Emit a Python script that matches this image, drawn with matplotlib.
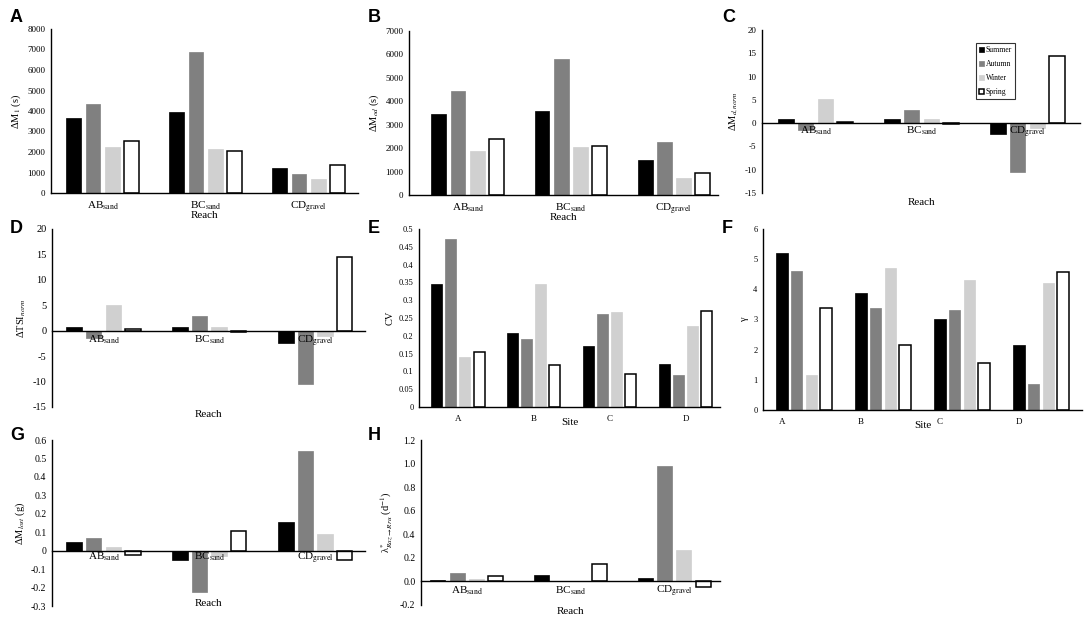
import numpy as np
import matplotlib
matplotlib.use("Agg")
import matplotlib.pyplot as plt
from matplotlib.ticker import FuncFormatter

plt.rcParams['font.family'] = ['Liberation Serif', 'DejaVu Serif']
plt.rcParams['mathtext.fontset'] = 'stix'
plt.rcParams['axes.unicode_minus'] = False

# ---------------- data ----------------
seasons = ['Summer', 'Autumn', 'Winter', 'Spring']
season_colors = ['#000000', '#808080', '#d0d0d0', '#ffffff']
reaches = ['AB$_{\\mathrm{sand}}$', 'BC$_{\\mathrm{sand}}$', 'CD$_{\\mathrm{gravel}}$']
sites = ['A', 'B', 'C', 'D']

# rows = seasons (Summer, Autumn, Winter, Spring), columns = reaches / sites
dM1 = [[3640, 3940, 1220],
       [4330, 6870, 940],
       [2230, 2130, 680],
       [2520, 2030, 1380]]
dMod = [[3450, 3600, 1510],
        [4450, 5800, 2270],
        [1890, 2040, 710],
        [2410, 2090, 920]]
dMdnorm = [[0.9, 0.8, -2.4],
           [-1.4, 2.9, -10.4],
           [5.1, 0.8, -1.1],
           [0.3, -0.2, 14.4]]
dTSI = [[0.8, 0.7, -2.4],
        [-1.5, 2.8, -10.4],
        [5.1, 0.7, -1.0],
        [0.3, -0.3, 14.5]]
cv = [[0.345, 0.209, 0.172, 0.122],
      [0.473, 0.190, 0.262, 0.091],
      [0.141, 0.345, 0.268, 0.227],
      [0.155, 0.117, 0.092, 0.270]]
gamma = [[5.20, 3.89, 3.01, 2.17],
         [4.62, 3.38, 3.32, 0.87],
         [1.15, 4.71, 4.32, 4.21],
         [3.37, 2.14, 1.55, 4.56]]
dMlost = [[0.049, -0.050, 0.153],
          [0.067, -0.222, 0.540],
          [0.022, -0.030, 0.092],
          [-0.023, 0.106, -0.050]]
lam = [[0.008, 0.054, 0.028],
       [0.070, 0.002, 0.977],
       [0.022, 0.001, 0.263],
       [0.045, 0.147, -0.045]]

W, H = 1084, 618
fig = plt.figure(figsize=(W / 100, H / 100), dpi=100)


def rect(l, r, t, b):
    return [l / W, 1 - b / H, (r - l) / W, (b - t) / H]


def panel(pos, data, cats, xlim, ylim, yticks, fmt, ylabel, xlabel,
          zero_axis=False, label_y=-0.1, tick_pad=5, ytick_fs=6.5,
          cat_fs=8, tick_shift=0.0, ylabel_fs=7.5):
    ax = fig.add_axes(pos)
    ax.set_axisbelow(False)
    for s in ['top', 'right']:
        ax.spines[s].set_visible(False)
    if zero_axis:
        ax.spines['bottom'].set_position(('data', 0))
    ax.spines['left'].set_linewidth(1.0)
    ax.spines['bottom'].set_linewidth(1.0)
    ax.spines['bottom'].set_zorder(3)
    x = np.arange(len(cats))
    for i, (vals, col) in enumerate(zip(data, season_colors)):
        off = (i - 1.5) * 0.185
        if col == '#ffffff':
            ax.bar(x + off, vals, width=0.145, color=col, edgecolor='black',
                   linewidth=1.1, label=seasons[i], zorder=2)
        else:
            ax.bar(x + off, vals, width=0.145, color=col, edgecolor=col,
                   linewidth=0.5, label=seasons[i], zorder=2)
    ax.set_xlim(*xlim)
    ax.set_ylim(*ylim)
    ax.set_yticks(yticks)
    ax.yaxis.set_major_formatter(FuncFormatter(fmt))
    ax.set_xticks(x + tick_shift)
    ax.set_xticklabels(cats)
    ax.tick_params(axis='both', length=0)
    ax.tick_params(axis='y', labelsize=ytick_fs, pad=4)
    ax.tick_params(axis='x', pad=tick_pad, labelsize=cat_fs)
    ax.set_ylabel(ylabel, fontsize=ylabel_fs, labelpad=3)
    ax.set_xlabel(xlabel, fontsize=8)
    ax.xaxis.set_label_coords(0.5, label_y)
    ax.set_facecolor('none')
    return ax


f_int = lambda v, p: '%d' % round(v)
f_g = lambda v, p: '%g' % round(v, 3)
f_1 = lambda v, p: '%.1f' % v

axA = panel(rect(51, 358, 29, 193), dM1, reaches, (-0.50, 2.48), (0, 8000),
            np.arange(0, 8001, 1000), f_int, 'ΔM$_1$ (s)', 'Reach', label_y=-0.11)
axB = panel(rect(409, 718, 31, 195), dMod, reaches, (-0.568, 2.43), (0, 7000),
            np.arange(0, 7001, 1000), f_int, 'ΔM$_{od}$ (s)', 'Reach', label_y=-0.11)
axC = panel(rect(762, 1080, 30, 193), dMdnorm, reaches, (-0.505, 2.495), (-15, 20),
            np.arange(-15, 21, 5), f_int, 'ΔM$_{d,norm}$', 'Reach', zero_axis=True,
            label_y=-0.03, tick_pad=1, cat_fs=8)
axD = panel(rect(52, 365, 229, 407), dTSI, reaches, (-0.486, 2.47), (-15, 20),
            np.arange(-15, 21, 5), f_int, 'ΔTSI$_{norm}$', 'Reach', zero_axis=True,
            label_y=-0.015, tick_pad=2, ytick_fs=7.5, cat_fs=8)
axE = panel(rect(419, 720, 229, 407), cv, sites, (-0.513, 3.45), (0, 0.5),
            np.arange(0, 0.501, 0.05), f_g, 'CV', 'Site', label_y=-0.062,
            tick_pad=6, ytick_fs=6, cat_fs=6.5)
axF = panel(rect(763, 1082, 229, 410), gamma, sites, (-0.52, 3.52), (0, 6),
            np.arange(0, 7, 1), f_int, 'γ', 'Site', label_y=-0.06,
            tick_pad=6, ytick_fs=6, cat_fs=6.5, tick_shift=-0.28)
axG = panel(rect(52, 365, 440, 606), dMlost, reaches, (-0.486, 2.47), (-0.3, 0.6),
            np.arange(-0.3, 0.601, 0.1), f_g, 'ΔM$_{lost}$ (g)', 'Reach', zero_axis=True,
            label_y=0.04, tick_pad=0, ytick_fs=7, cat_fs=8)
axH = panel(rect(421, 720, 440, 605), lam, reaches, (-0.44, 2.44), (-0.2, 1.2),
            np.arange(-0.2, 1.201, 0.2), f_1,
            'λ$^{*}_{Raz\\rightarrow Rru}$ (d$^{-1}$)', 'Reach', zero_axis=True,
            label_y=-0.012, tick_pad=2, ytick_fs=7, cat_fs=8)

leg = axC.legend(loc='upper left', bbox_to_anchor=(976 / W, 1 - 43 / H),
                 bbox_transform=fig.transFigure, fontsize=5.5, frameon=True,
                 fancybox=False, edgecolor='black', handlelength=0.6,
                 handleheight=0.6, handletextpad=0.3, borderpad=0.4,
                 labelspacing=0.8, borderaxespad=0)
leg.get_frame().set_linewidth(0.8)

for lab, (px, py) in zip('ABCDEFGH', [(10, 18), (368, 18), (722, 18),
                                      (10, 228), (368, 228), (722, 228),
                                      (10, 435), (368, 435)]):
    fig.text(px / W, 1 - py / H, lab, fontsize=13, fontweight='bold',
             family='Liberation Sans', ha='left', va='center')

fig.savefig('out.png', dpi=100)
